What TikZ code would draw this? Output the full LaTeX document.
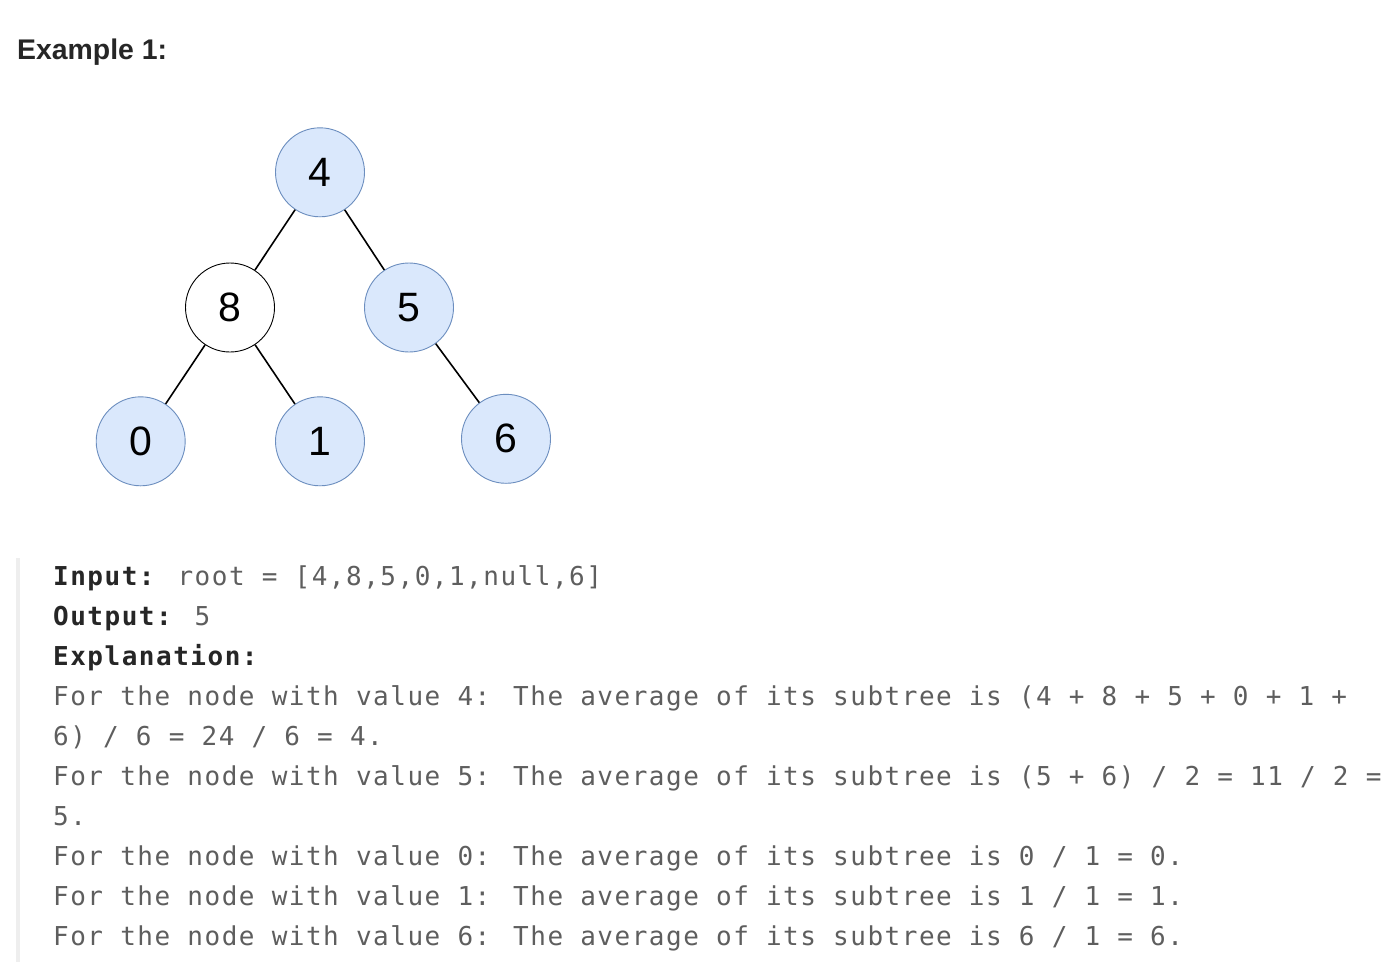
\documentclass[tikz,border=0pt]{standalone}
\usepackage{fontspec}
\setmainfont{Liberation Sans}
\newfontfamily\codefont[LetterSpace=5.8]{DejaVu Sans Mono}
\definecolor{nodefill}{HTML}{DAE8FC}
\definecolor{nodeline}{HTML}{6C8EBF}
\definecolor{darktext}{HTML}{262626}
\definecolor{graytext}{HTML}{5E5E5E}
\definecolor{quotebar}{HTML}{EEEEEE}
\tikzset{
  treenode/.style={circle, draw=nodeline, fill=nodefill, line width=0.9pt,
    minimum size=89pt, inner sep=0pt, font=\fontsize{41}{41}\selectfont},
  plainnode/.style={treenode, draw=black, fill=white},
  codeline/.style={anchor=base west, inner sep=0pt, text=graytext,
    font=\codefont\fontsize{26}{26}\selectfont},
}
\begin{document}
\begin{tikzpicture}[x=1pt, y=-1pt]
        % Page frame
        \useasboundingbox[fill=white] (0,0) rectangle (1394,962);

        % Heading
        \node[anchor=base west, inner sep=0pt, text=darktext,
          font=\bfseries\fontsize{28.4}{28.4}\selectfont] (title) at (17,59.3) {Example 1:};

        % Tree nodes
        \node[treenode]  (n4) at (320,172.3) {4};
        \node[plainnode] (n8) at (230,307.5) {8};
        \node[treenode]  (n5) at (409,307.5) {5};
        \node[treenode]  (n0) at (140.7,441.3) {0};
        \node[treenode]  (n1) at (320,441.3) {1};
        \node[treenode]  (n6) at (506,438.8) {6};

        % Edges
        \draw[line width=1.6pt] (n4) -- (n8);
        \draw[line width=1.6pt] (n4) -- (n5);
        \draw[line width=1.6pt] (n8) -- (n0);
        \draw[line width=1.6pt] (n8) -- (n1);
        \draw[line width=1.6pt] (n5) -- (n6);

        % Quote bar
        \fill[quotebar] (16,558) rectangle (20,962);

        % Explanation text
        \node[codeline] (l1) at (53,585.5) {\textcolor{darktext}{\bfseries Input:} root = [4,8,5,0,1,null,6]};
        \node[codeline] (l2) at (53,625.5) {\textcolor{darktext}{\bfseries Output:} 5};
        \node[codeline] (l3) at (53,665.5) {\textcolor{darktext}{\bfseries Explanation:}};
        \node[codeline] (l4) at (53,705.5) {For the node with value 4: The average of its subtree is (4 + 8 + 5 + 0 + 1 +};
        \node[codeline] (l5) at (53,745.5) {6) / 6 = 24 / 6 = 4.};
        \node[codeline] (l6) at (53,785.5) {For the node with value 5: The average of its subtree is (5 + 6) / 2 = 11 / 2 =};
        \node[codeline] (l7) at (53,825.5) {5.};
        \node[codeline] (l8) at (53,865.5) {For the node with value 0: The average of its subtree is 0 / 1 = 0.};
        \node[codeline] (l9) at (53,905.5) {For the node with value 1: The average of its subtree is 1 / 1 = 1.};
        \node[codeline] (l10) at (53,945.5) {For the node with value 6: The average of its subtree is 6 / 1 = 6.};
\end{tikzpicture}
\end{document}
